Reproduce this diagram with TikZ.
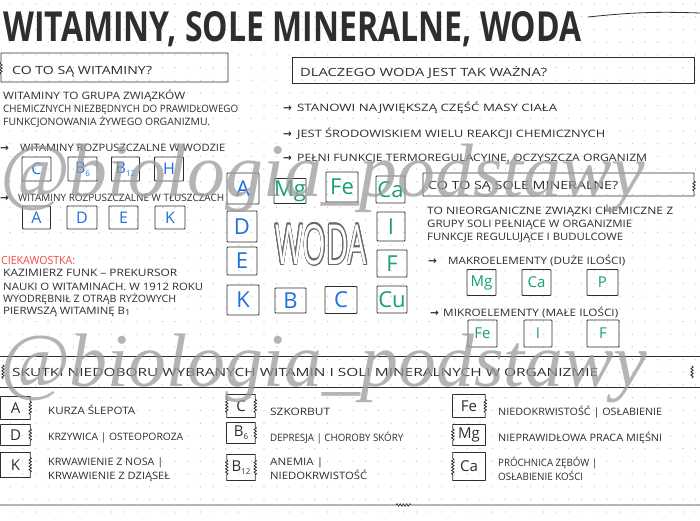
\documentclass[tikz,border=0pt]{standalone}
\usepackage{fontspec}
\setmainfont{Open Sans}
\newfontfamily\wmfont{Liberation Serif}
\newfontfamily\symfont{DejaVu Sans}
\usepackage{graphicx}
\usepackage{contour}
\usetikzlibrary{calc,decorations.pathmorphing}
\definecolor{ink}{HTML}{2E2E2E}
\definecolor{vblue}{HTML}{1F6FE0}
\definecolor{mgreen}{HTML}{16A078}
\definecolor{cred}{HTML}{F24B4B}
\definecolor{dotc}{HTML}{C0C0C0}
\definecolor{wm}{HTML}{9C9C9C}
\definecolor{wodac}{HTML}{6A6A6A}
% text line of given width (#2) and height (#1)
\newcommand{\hwl}[3][9.5]{\resizebox{#2pt}{#1pt}{\vphantom{ŻÓĄ}#3}}
\newcommand{\arr}{{\symfont\bfseries\fontsize{10.5}{10.5}\selectfont →}}
\newcommand{\sub}[1]{\raisebox{-0.35ex}{\fontsize{8}{8}\selectfont #1}}
\newcommand{\boxtb}[1]{\draw[frm] (#1.north west) -- (#1.north east) (#1.south west) -- (#1.south east);}
\newcommand{\edgeS}[2]{\draw[frm] (#1.north #2) -- ($(#1.north #2)!0.2!(#1.south #2)$) decorate[sq]{-- ($(#1.north #2)!0.8!(#1.south #2)$)} -- (#1.south #2);}
\newcommand{\edgeP}[2]{\draw[frm] (#1.north #2) -- (#1.south #2);}
\contourlength{1.4pt}
\begin{document}
\begin{tikzpicture}[x=1pt,y=-1pt,
  frm/.style={draw=ink, line width=0.8pt, line cap=round, line join=round},
  sq/.style={decoration={snake,amplitude=1.3pt,segment length=3.2pt}},
  tl/.style={anchor=base west, inner sep=0pt, text=ink},
  bx/.style={draw=ink, line width=0.9pt, inner sep=0pt, rounded corners=0.8pt},
  nb/.style={inner sep=0pt, text=ink, font=\fontsize{15}{15}\selectfont},
  vit/.style={text=vblue},
  mineral/.style={text=mgreen},
  sml/.style={font=\fontsize{16}{16}\selectfont},
  big/.style={font=\fontsize{22}{22}\selectfont},
  mid/.style={font=\fontsize{15}{15}\selectfont}]
\useasboundingbox (0,0) rectangle (700,520);
\fill[white] (0,0) rectangle (700,520);
\foreach \i in {0,...,55}{\foreach \j in {0,...,40}{\fill[dotc] (-2.7+\i*12.7, 4+\j*12.7) circle (0.65pt);}}

% ---------- title ----------
\node[tl, text=ink, font=\bfseries] (title) at (3,41) {\resizebox{578pt}{30pt}{WITAMINY, SOLE MINERALNE, WODA}};
\coordinate (tla) at (588,17);
\coordinate (tlb) at (700,13);
\draw[frm] (tla) to[bend left=4] (tlb);

% ---------- left: vitamins ----------
\draw[frm] (1,53) -- (228,53) -- (228,82) -- (1,82) -- (1,74) decorate[sq]{-- (1,62)} -- cycle;
\node[tl] (qv) at (12,74) {\hwl[10.5]{140}{CO TO SĄ WITAMINY?}};
\node[tl] (p1) at (3,99) {\hwl{182}{WITAMINY TO GRUPA ZWIĄZKÓW}};
\node[tl] (p2) at (3,112) {\hwl{235}{CHEMICZNYCH NIEZBĘDNYCH DO PRAWIDŁOWEGO}};
\node[tl] (p3) at (3,125) {\hwl{207}{FUNKCJONOWANIA ŻYWEGO ORGANIZMU.}};
\node[tl] (a1) at (0,151) {\arr};
\node[tl] (r1) at (20,151) {\hwl{205}{WITAMINY ROZPUSZCZALNE W WODZIE}};
\node[bx, vit, sml, minimum width=29pt, minimum height=24pt] (wC) at (36.5,169) {C};
\node[bx, vit, sml, minimum width=29pt, minimum height=24pt] (wB6) at (82.5,169) {B\sub{6}};
\node[bx, vit, sml, minimum width=28pt, minimum height=24pt] (wB12) at (125.5,169) {B\sub{12}};
\node[bx, vit, sml, minimum width=29pt, minimum height=24pt] (wH) at (169,169) {H};
\node[tl] (a2) at (0,201) {\arr};
\node[tl] (r2) at (18,201) {\hwl{206}{WITAMINY ROZPUSZCZALNE W TŁUSZCZACH}};
\node[bx, vit, sml, minimum width=28pt, minimum height=23pt] (fA) at (36.5,217.5) {A};
\node[bx, vit, sml, minimum width=30pt, minimum height=23pt] (fD) at (82,217.5) {D};
\node[bx, vit, sml, minimum width=29pt, minimum height=23pt] (fE) at (123.5,217.5) {E};
\node[bx, vit, sml, minimum width=30pt, minimum height=23pt] (fK) at (170,217.5) {K};
\node[tl, text=cred] (ck) at (1,264) {\hwl[10.5]{74}{CIEKAWOSTKA:}};
\node[tl] (f1) at (3,276) {\hwl{174}{KAZIMIERZ FUNK – PREKURSOR}};
\node[tl] (f2) at (3,290) {\hwl{200}{NAUKI O WITAMINACH. W 1912 ROKU}};
\node[tl] (f3) at (3,302) {\hwl{173}{WYODRĘBNIŁ Z OTRĄB RYŻOWYCH}};
\node[tl] (f4) at (3,314) {\hwl{127}{PIERWSZĄ WITAMINĘ B\sub{1}}};

% ---------- centre: WODA ----------
\node[bx, vit, big, minimum width=32pt, minimum height=31pt] (cA) at (243,188.5) {A};
\node[bx, mineral, big, minimum width=30pt, minimum height=25pt] (cMg) at (290,191) {Mg};
\node[bx, mineral, big, minimum width=32pt, minimum height=30pt] (cFe) at (342,187) {Fe};
\node[bx, mineral, big, minimum width=29pt, minimum height=27pt] (cCa) at (390.5,189.5) {Ca};
\node[bx, vit, big, minimum width=30pt, minimum height=31pt] (cD) at (242,226.5) {D};
\node[bx, mineral, big, minimum width=28pt, minimum height=29pt] (cI) at (391,226.5) {I};
\node[bx, vit, big, minimum width=30pt, minimum height=28pt] (cE) at (242,261) {E};
\node[bx, mineral, big, minimum width=30pt, minimum height=27pt] (cF) at (392,263.5) {F};
\node[bx, vit, big, minimum width=32pt, minimum height=30pt] (cK) at (243,300) {K};
\node[bx, vit, big, minimum width=31pt, minimum height=25pt] (cB) at (290.5,300.5) {B};
\node[bx, vit, big, minimum width=32pt, minimum height=27pt] (cC) at (341,300) {C};
\node[bx, mineral, big, minimum width=30pt, minimum height=27pt] (cCu) at (392,299.5) {Cu};
\node[inner sep=0pt] (woda) at (321,245) {\resizebox{92pt}{40pt}{\fontsize{56}{56}\selectfont\contour{wodac}{\textcolor{white}{WODA}}}};

% ---------- right: water ----------
\draw[frm] (292,57) rectangle (694,83);
\node[tl] (qw) at (300,76) {\hwl[10.5]{247}{DLACZEGO WODA JEST TAK WAŻNA?}};
\node[tl] (a3) at (283,111) {\arr};
\node[tl] (w1) at (297,111) {\hwl{260}{STANOWI NAJWIĘKSZĄ CZĘŚĆ MASY CIAŁA}};
\node[tl] (a4) at (283,137) {\arr};
\node[tl] (w2) at (297,137) {\hwl{308}{JEST ŚRODOWISKIEM WIELU REAKCJI CHEMICZNYCH}};
\node[tl] (a5) at (283,161) {\arr};
\node[tl] (w3) at (297,161) {\hwl{350}{PEŁNI FUNKCJE TERMOREGULACYJNE, OCZYSZCZA ORGANIZM}};

% ---------- right: minerals ----------
\draw[frm] (694,180) -- (694,173) -- (423,173) -- (423,196) -- (694,196) -- (694,191) decorate[sq]{-- (694,180)};
\node[tl] (qm) at (428,189) {\hwl[10.5]{190}{CO TO SĄ SOLE MINERALNE?}};
\node[tl] (m1) at (427,214) {\hwl{246}{TO NIEORGANICZNE ZWIĄZKI CHEMICZNE Z}};
\node[tl] (m2) at (427,227) {\hwl{205}{GRUPY SOLI PEŁNIĄCE W ORGANIZMIE}};
\node[tl] (m3) at (427,240) {\hwl{196}{FUNKCJE REGULUJĄCE I BUDULCOWE}};
\node[tl] (a6) at (428,264) {\arr};
\node[tl] (mk) at (448,264) {\hwl{177}{MAKROELEMENTY (DUŻE ILOŚCI)}};
\node[bx, mineral, mid, minimum width=29pt, minimum height=26pt] (rMg) at (481.5,282.5) {Mg};
\node[bx, mineral, mid, minimum width=29pt, minimum height=26pt] (rCa) at (536.5,282.5) {Ca};
\node[bx, mineral, mid, minimum width=31pt, minimum height=26pt] (rP) at (602.5,282.5) {P};
\node[tl] (a7) at (430,316) {\arr};
\node[tl] (mi) at (443,316) {\hwl{175}{MIKROELEMENTY (MAŁE ILOŚCI)}};
\node[bx, mineral, mid, minimum width=29pt, minimum height=27pt] (rFe) at (482.5,333.5) {Fe};
\node[bx, mineral, mid, minimum width=28pt, minimum height=27pt] (rI) at (538,333.5) {I};
\node[bx, mineral, mid, minimum width=32pt, minimum height=27pt] (rF) at (603,333.5) {F};

% ---------- bottom: deficiencies ----------
\draw[frm] (0,356) -- (700,356);
\draw[frm] (0,387) -- (700,387);
\draw[frm] (3,365) decorate[sq]{-- (3,379)};
\draw[frm] (692,366) decorate[sq]{-- (692,378)};
\node[tl] (hd) at (12,376) {\hwl[10.5]{586}{SKUTKI NIEDOBORU WYBRANYCH WITAMIN I SOLI MINERALNYCH W ORGANIZMIE}};

\node[nb, minimum width=29pt, minimum height=22pt] (dA) at (15.5,408) {A};
\node[nb, minimum width=29pt, minimum height=20pt] (dD) at (15.5,435) {D};
\node[nb, minimum width=29pt, minimum height=25pt] (dK) at (15.5,465) {K};
\node[nb, minimum width=28pt, minimum height=22pt] (dC) at (241,406) {C};
\node[nb, minimum width=28pt, minimum height=20pt] (dB6) at (241,433) {B\sub{6}};
\node[nb, minimum width=28pt, minimum height=25pt] (dB12) at (241,467.5) {B\sub{12}};
\node[nb, minimum width=32pt, minimum height=22pt] (dFe) at (469,406) {Fe};
\node[nb, minimum width=32pt, minimum height=20pt] (dMg) at (469,435) {Mg};
\node[nb, minimum width=32pt, minimum height=27pt] (dCa) at (469,466.5) {Ca};
\boxtb{dA}\edgeP{dA}{west}\edgeS{dA}{east}
\boxtb{dD}\edgeP{dD}{west}\edgeS{dD}{east}
\boxtb{dK}\edgeP{dK}{west}\edgeS{dK}{east}
\boxtb{dC}\edgeS{dC}{west}\edgeS{dC}{east}
\boxtb{dB6}\edgeP{dB6}{west}\edgeS{dB6}{east}
\boxtb{dB12}\edgeS{dB12}{west}\edgeS{dB12}{east}
\boxtb{dFe}\edgeP{dFe}{west}\edgeS{dFe}{east}
\boxtb{dMg}\edgeS{dMg}{west}\edgeP{dMg}{east}
\boxtb{dCa}\edgeS{dCa}{west}\edgeP{dCa}{east}

\node[tl] (t1) at (48,414) {\hwl{87}{KURZA ŚLEPOTA}};
\node[tl] (t2) at (48,440) {\hwl{135}{KRZYWICA | OSTEOPOROZA}};
\node[tl] (t3) at (48,465) {\hwl{115}{KRWAWIENIE Z NOSA |}};
\node[tl] (t4) at (48,479) {\hwl{122}{KRWAWIENIE Z DZIĄSEŁ}};
\node[tl] (t5) at (270,415) {\hwl{60}{SZKORBUT}};
\node[tl] (t6) at (270,441) {\hwl{133}{DEPRESJA | CHOROBY SKÓRY}};
\node[tl] (t7) at (270,465) {\hwl{53}{ANEMIA |}};
\node[tl] (t8) at (270,479) {\hwl{97}{NIEDOKRWISTOŚĆ}};
\node[tl] (t9) at (498,415) {\hwl{164}{NIEDOKRWISTOŚĆ | OSŁABIENIE}};
\node[tl] (t10) at (498,441) {\hwl{164}{NIEPRAWIDŁOWA PRACA MIĘŚNI}};
\node[tl] (t11) at (498,466) {\hwl{99}{PRÓCHNICA ZĘBÓW |}};
\node[tl] (t12) at (498,480) {\hwl{85}{OSŁABIENIE KOŚCI}};
\draw[frm] (0,505) -- (396,505) decorate[sq]{-- (412,505)} -- (700,505);

% ---------- watermarks ----------
\node[anchor=base west, inner sep=0pt, text=wm, text opacity=0.75] (wm1) at (0,196) {\resizebox{645pt}{!}{\wmfont\itshape @biologia\_podstawy}};
\node[anchor=base west, inner sep=0pt, text=wm, text opacity=0.75] (wm2) at (0,386) {\resizebox{647pt}{!}{\wmfont\itshape @biologia\_podstawy}};
\end{tikzpicture}
\end{document}
